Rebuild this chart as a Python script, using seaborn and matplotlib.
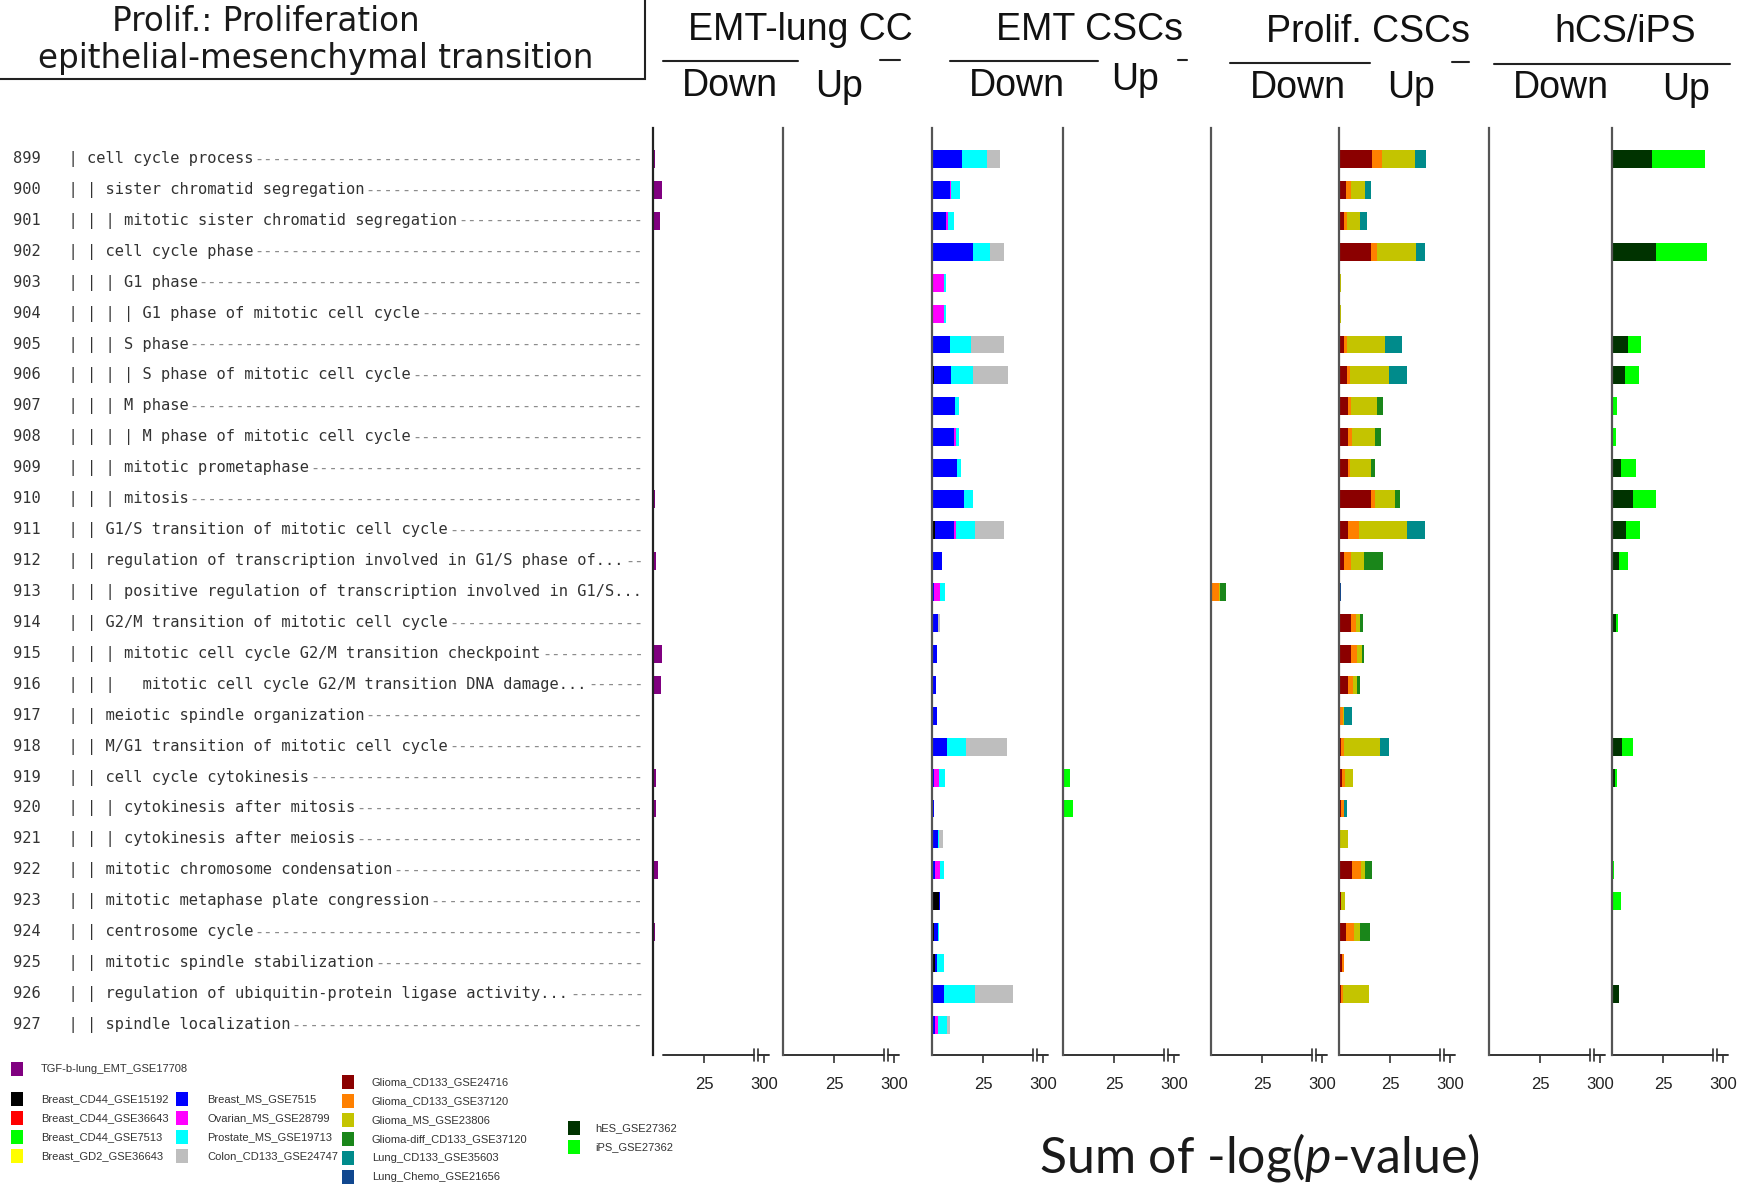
import numpy as np
import pandas as pd
import matplotlib
matplotlib.use("Agg")
import matplotlib.pyplot as plt
import seaborn as sns
from matplotlib import font_manager
from matplotlib.transforms import blended_transform_factory
from matplotlib.patches import Rectangle
from matplotlib.lines import Line2D

# ---------------- data ----------------
term_ids = [str(i) for i in range(899, 928)]
term_tree = ["| ", "| | ", "| | | ", "| | ", "| | | ", "| | | | ", "| | | ", "| | | | ",
             "| | | ", "| | | | ", "| | | ", "| | | ", "| | ", "| | ", "| | | ", "| | ",
             "| | | ", "| | |   ", "| | ", "| | ", "| | ", "| | | ", "| | | ", "| | ",
             "| | ", "| | ", "| | ", "| | ", "| | "]
term_names = ["cell cycle process", "sister chromatid segregation",
              "mitotic sister chromatid segregation", "cell cycle phase", "G1 phase",
              "G1 phase of mitotic cell cycle", "S phase", "S phase of mitotic cell cycle",
              "M phase", "M phase of mitotic cell cycle", "mitotic prometaphase", "mitosis",
              "G1/S transition of mitotic cell cycle",
              "regulation of transcription involved in G1/S phase of...",
              "positive regulation of transcription involved in G1/S...",
              "G2/M transition of mitotic cell cycle",
              "mitotic cell cycle G2/M transition checkpoint",
              "mitotic cell cycle G2/M transition DNA damage...",
              "meiotic spindle organization", "M/G1 transition of mitotic cell cycle",
              "cell cycle cytokinesis", "cytokinesis after mitosis", "cytokinesis after meiosis",
              "mitotic chromosome condensation", "mitotic metaphase plate congression",
              "centrosome cycle", "mitotic spindle stabilization",
              "regulation of ubiquitin-protein ligase activity...", "spindle localization"]

group_titles = ["EMT-lung CC", "EMT CSCs", "Prolif. CSCs", "hCS/iPS"]
direction_labels = ["Down", "Up"]
tick_values = [25, 300]
tick_labels = ["25", "300"]

legend_names = ["TGF-b-lung_EMT_GSE17708",
                "Breast_CD44_GSE15192", "Breast_CD44_GSE36643", "Breast_CD44_GSE7513", "Breast_GD2_GSE36643",
                "Breast_MS_GSE7515", "Ovarian_MS_GSE28799", "Prostate_MS_GSE19713", "Colon_CD133_GSE24747",
                "Glioma_CD133_GSE24716", "Glioma_CD133_GSE37120", "Glioma_MS_GSE23806",
                "Glioma-diff_CD133_GSE37120", "Lung_CD133_GSE35603", "Lung_Chemo_GSE21656",
                "hES_GSE27362", "iPS_GSE27362"]
legend_colors = ["#800080",
                 "#000000", "#ff0000", "#00ff00", "#ffff00",
                 "#0000ff", "#ff00ff", "#00ffff", "#bebebe",
                 "#8b0000", "#ff8000", "#c4c400", "#1a861a", "#008b8b", "#10478f",
                 "#003300", "#00ff00"]
COL = dict(zip(legend_names, legend_colors))

# values (sum of -log p) per dataset, rows 899..927
tgf_down = [1.1, 4.4, 3.3, 0, 0, 0, 0, 0, 0, 0, 0, 1.1, 0, 1.3, 0, 0, 4.3, 3.9, 0, 0,
            1.6, 1.3, 0, 2.5, 0, 1.0, 0, 0, 0]

emt_black = [0, 0, 0, 0, 0, 0, 0, 1.1, 0, 0, 0, 0, 1.6, 0, 0, 0, 0, 0, 0, 0,
             0, 0, 0, 0, 3.5, 1.1, 1.5, 0, 0]
emt_blue = [14.7, 8.7, 6.9, 20.0, 0.5, 0.5, 8.7, 8.2, 11.5, 11.0, 12.3, 15.6, 9.0, 4.9, 1.1,
            3.0, 2.5, 2.1, 2.5, 7.4, 1.1, 1.1, 3.0, 1.6, 0.5, 1.8, 1.0, 5.7, 1.6]
emt_magenta = [0, 0.8, 0.8, 0, 5.2, 5.2, 0, 0, 0, 0.8, 0, 0, 1.3, 0, 2.6, 0, 0, 0, 0, 0,
               2.1, 0, 0, 2.1, 0, 0, 0, 0, 1.3]
emt_cyan = [12.3, 4.1, 3.3, 8.4, 1.3, 1.3, 10.2, 10.7, 1.6, 1.3, 2.0, 4.6, 9.3, 0, 2.8,
            0, 0, 0, 0, 9.5, 3.3, 0, 0.5, 2.0, 0, 0.5, 3.3, 15.6, 4.4]
emt_gray = [6.6, 0, 0, 6.9, 0, 0, 16.4, 17.2, 0, 0, 0, 0, 13.9, 0, 0, 1.0, 0, 0, 0, 19.7,
            0, 0, 2.1, 0, 0, 0, 0, 18.5, 1.6]
emt_up_green = [0] * 20 + [3.2, 4.8] + [0] * 7

pro_down_orange = [0] * 14 + [3.8] + [0] * 14
pro_down_olive = [0] * 14 + [0.8] + [0] * 14
pro_down_green = [0] * 14 + [3.0] + [0] * 14

pro_darkred = [16.4, 3.2, 2.6, 15.6, 0, 0, 2.6, 3.7, 4.5, 4.5, 4.5, 15.6, 4.5, 2.6, 0,
               5.8, 5.8, 4.5, 0, 1.0, 1.3, 1.0, 0, 6.6, 1.0, 3.2, 1.3, 1.0, 0]
pro_orange = [4.5, 2.6, 1.3, 2.9, 0.6, 0.5, 1.3, 1.6, 1.3, 1.8, 0.8, 2.1, 5.3, 3.2, 0,
              2.6, 3.2, 2.6, 1.8, 1.6, 1.8, 1.6, 0, 4.0, 0, 4.0, 1.3, 0.8, 0]
pro_olive = [16.6, 6.9, 6.6, 19.5, 0.6, 0.5, 18.5, 19.0, 12.7, 11.3, 10.5, 9.8, 23.7, 6.6, 0,
             1.8, 2.1, 1.8, 0.8, 17.7, 4.0, 0, 4.5, 2.1, 2.1, 3.2, 0, 12.7, 0]
pro_green = [0, 0, 0, 0, 0, 0, 0, 0, 3.2, 3.2, 1.8, 2.6, 0, 9.2, 0, 1.6, 1.3, 1.6, 0, 0,
             0, 0, 0, 3.7, 0, 4.7, 0, 0, 0]
pro_teal = [5.3, 2.9, 3.2, 4.0, 0, 0, 8.4, 9.2, 0, 0, 0, 0, 8.7, 0, 0, 0, 0, 0, 3.7, 4.0,
            0, 1.3, 0, 0, 0, 0, 0, 0, 0]
pro_darkblue = [0] * 14 + [1.0] + [0] * 14

hcs_hes = [19.5, 0, 0, 21.6, 0, 0, 7.7, 6.6, 0.5, 0, 4.5, 10.5, 7.1, 3.2, 0, 1.8, 0.3, 0.3,
           0, 5.0, 1.3, 0, 0, 0, 0.5, 0, 0, 3.2, 0]
hcs_ips = [25.9, 0, 0, 25.0, 0, 0, 6.6, 6.6, 1.8, 1.8, 7.1, 11.1, 6.6, 4.5, 0, 1.3, 0, 0,
           0.5, 5.3, 1.3, 0, 0, 1.0, 4.0, 0, 0, 0, 0]

panels = [
    [("TGF-b-lung_EMT_GSE17708", tgf_down)],
    [],
    [("Breast_CD44_GSE15192", emt_black), ("Breast_MS_GSE7515", emt_blue),
     ("Ovarian_MS_GSE28799", emt_magenta), ("Prostate_MS_GSE19713", emt_cyan),
     ("Colon_CD133_GSE24747", emt_gray)],
    [("Breast_CD44_GSE7513", emt_up_green)],
    [("Glioma_CD133_GSE37120", pro_down_orange), ("Glioma_MS_GSE23806", pro_down_olive),
     ("Glioma-diff_CD133_GSE37120", pro_down_green)],
    [("Glioma_CD133_GSE24716", pro_darkred), ("Glioma_CD133_GSE37120", pro_orange),
     ("Glioma_MS_GSE23806", pro_olive), ("Glioma-diff_CD133_GSE37120", pro_green),
     ("Lung_CD133_GSE35603", pro_teal), ("Lung_Chemo_GSE21656", pro_darkblue)],
    [],
    [("hES_GSE27362", hcs_hes), ("iPS_GSE27362", hcs_ips)],
]

# ---------------- style ----------------
sns.set_theme(style="white")
names = {f.name for f in font_manager.fontManager.ttflist}
NARROW = "Liberation Sans Narrow" in names
HDR_FAM = ["Liberation Sans Narrow", "DejaVu Sans"] if NARROW else ["Liberation Sans", "DejaVu Sans"]
HDR_SIZE = 32 if NARROW else 27
TICK_SIZE = 14 if NARROW else 12
LEG_SIZE = 9.5 if NARROW else 8
GEO = ["Lato", "DejaVu Sans"]
plt.rcParams["font.family"] = ["DejaVu Sans"]
plt.rcParams["mathtext.fontset"] = "custom"
plt.rcParams["mathtext.rm"] = "Lato"
plt.rcParams["mathtext.it"] = "Lato:italic"

W, H = 1742, 1191
fig = plt.figure(figsize=(W / 100, H / 100), dpi=100)
fig.patch.set_facecolor("white")


def fx(x):
    return x / W


def fy(y):
    return 1 - y / H


# broken-axis scale: linear up to B, compressed beyond
B, K = 48.0, 0.0254
FWD_MAX = 56.9


def fwd(v):
    v = np.asarray(v, dtype=float)
    return np.where(v <= B, v, B + (v - B) * K)


def inv(v):
    v = np.asarray(v, dtype=float)
    return np.where(v <= B, v, B + (v - B) / K)


lefts = [653, 783, 932, 1063, 1211, 1339, 1489, 1612]
AX_W = 116
TOP, BOT = 128, 1055
axes = []
for pi, L in enumerate(lefts):
    ax = fig.add_axes([fx(L), fy(BOT), AX_W / W, (BOT - TOP) / H])
    ax.set_facecolor("none")
    layers = panels[pi]
    if layers:
        df = pd.DataFrame({"term": term_ids})
        cols = []
        for j, (nm, vals) in enumerate(layers):
            c = f"c{j}"
            df[c] = vals
            cols.append(c)
        cum = df[cols].cumsum(axis=1)
        cum["term"] = df["term"]
        for j in range(len(cols) - 1, -1, -1):
            sns.barplot(data=cum, x=cols[j], y="term", order=term_ids, orient="h",
                        color=COL[layers[j][0]], saturation=1, width=0.58,
                        errorbar=None, linewidth=0, ax=ax)
    ax.set_xscale("function", functions=(fwd, inv))
    ax.set_xlim(0, float(inv(FWD_MAX)))
    ax.set_ylim(28.97, -1.0)
    ax.set_yticks([])
    ax.set_xlabel("")
    ax.set_ylabel("")
    for s in ["top", "right", "bottom"]:
        ax.spines[s].set_visible(False)
    ax.spines["left"].set_color("#222222" if pi == 0 else "#555555")
    ax.spines["left"].set_linewidth(1.6)
    ax.set_xticks(tick_values)
    ax.set_xticklabels(tick_labels, family=HDR_FAM, fontsize=TICK_SIZE, color="#222222")
    ax.tick_params(axis="x", bottom=True, direction="out", length=6, width=1.2,
                   color="#333333", pad=10)
    ax.xaxis.set_minor_locator(matplotlib.ticker.NullLocator())
    # bottom axis line with break marks
    start = 0.086 if pi == 0 else 0.0
    m1, m2 = 49.6 / FWD_MAX, 51.4 / FWD_MAX
    tr = ax.transAxes
    ax.add_line(Line2D([start, m1], [0, 0], transform=tr, color="#333333", lw=1.4, clip_on=False))
    ax.add_line(Line2D([m2, 1.0], [0, 0], transform=tr, color="#333333", lw=1.4, clip_on=False))
    for m in (m1, m2):
        ax.add_line(Line2D([m, m], [-0.006, 0.006], transform=tr, color="#333333", lw=1.2,
                           clip_on=False))
    axes.append(ax)

# ---------------- row labels ----------------
LAB_FS = 11.1
CW = 0.60205 * LAB_FS * 100 / 72
TOTAL = 68
btr = blended_transform_factory(fig.transFigure, axes[0].transData)
for i, (tid, tree, nm) in enumerate(zip(term_ids, term_tree, term_names)):
    main = f"{tid}   {tree}{nm}"
    dashes = "-" * max(0, TOTAL - len(main))
    fig.text(fx(13), i, main, transform=btr, family=["DejaVu Sans Mono"], fontsize=LAB_FS,
             color="#333333", ha="left", va="center")
    if dashes:
        fig.text(fx(13 + CW * len(main)), i, dashes, transform=btr,
                 family=["DejaVu Sans Mono"], fontsize=LAB_FS, color="#8c8c8c",
                 ha="left", va="center")

# ---------------- headers ----------------
title_pos = [(800, 30), (1089, 30), (1368, 32), (1625, 32)]
underlines = [(663, 798, 61), (950, 1098, 61), (1230, 1370, 63), (1494, 1730, 64)]
dashes_pos = [(880, 900, 60), (1178, 1187, 60), (1452, 1469, 62)]
down_pos = [(730, 86), (1017, 86), (1298, 88), (1561, 88)]
up_pos = [(839, 87), (1135, 80), (1411, 88), (1686, 90)]
for g in range(4):
    fig.text(fx(title_pos[g][0]), fy(title_pos[g][1]), group_titles[g], family=HDR_FAM,
             fontsize=HDR_SIZE, ha="center", va="center", color="#111111")
    x0, x1, y = underlines[g]
    fig.add_artist(Line2D([fx(x0), fx(x1)], [fy(y), fy(y)], transform=fig.transFigure,
                          color="#222222", lw=1.5))
    fig.text(fx(down_pos[g][0]), fy(down_pos[g][1]), direction_labels[0], family=HDR_FAM,
             fontsize=HDR_SIZE, ha="center", va="center", color="#111111")
    fig.text(fx(up_pos[g][0]), fy(up_pos[g][1]), direction_labels[1], family=HDR_FAM,
             fontsize=HDR_SIZE, ha="center", va="center", color="#111111")
for x0, x1, y in dashes_pos:
    fig.add_artist(Line2D([fx(x0), fx(x1)], [fy(y), fy(y)], transform=fig.transFigure,
                          color="#222222", lw=1.5))

# ---------------- top-left box ----------------
fig.add_artist(Rectangle((fx(-20), fy(79)), fx(665), 0.2, transform=fig.transFigure,
                         fill=False, ec="#222222", lw=1.5, clip_on=False))
fig.text(fx(266), fy(31), "Prolif.: Proliferation", family=["DejaVu Sans"], fontsize=23.5,
         ha="center", va="baseline", color="#1a1a1a")
fig.text(fx(316), fy(68), "epithelial-mesenchymal transition", family=["DejaVu Sans"],
         fontsize=23.5, ha="center", va="baseline", color="#1a1a1a")

# ---------------- x label ----------------
fig.text(fx(1259), fy(1158), r"Sum of -log($\mathit{p}$-value)", family=GEO, fontsize=36,
         ha="center", va="center", color="#1a1a1a")

# ---------------- legend ----------------
leg_layout = [
    (17, 41, [1069, 1099, 1118, 1137, 1156]),
    (182, 207, [1099, 1118, 1137, 1156]),
    (348, 372, [1082, 1101, 1120, 1139, 1158, 1177]),
    (574, 595, [1128, 1147]),
]
k = 0
for xs, xt, ys in leg_layout:
    for y in ys:
        nm, c = legend_names[k], legend_colors[k]
        fig.add_artist(Rectangle((fx(xs - 6), fy(y + 7)), 12 / W, 14 / H,
                                 transform=fig.transFigure, fc=c, ec="none"))
        fig.text(fx(xt), fy(y), nm, family=HDR_FAM, fontsize=LEG_SIZE, ha="left",
                 va="center", color="#333333")
        k += 1

fig.savefig("out.png", dpi=100, facecolor="white")
